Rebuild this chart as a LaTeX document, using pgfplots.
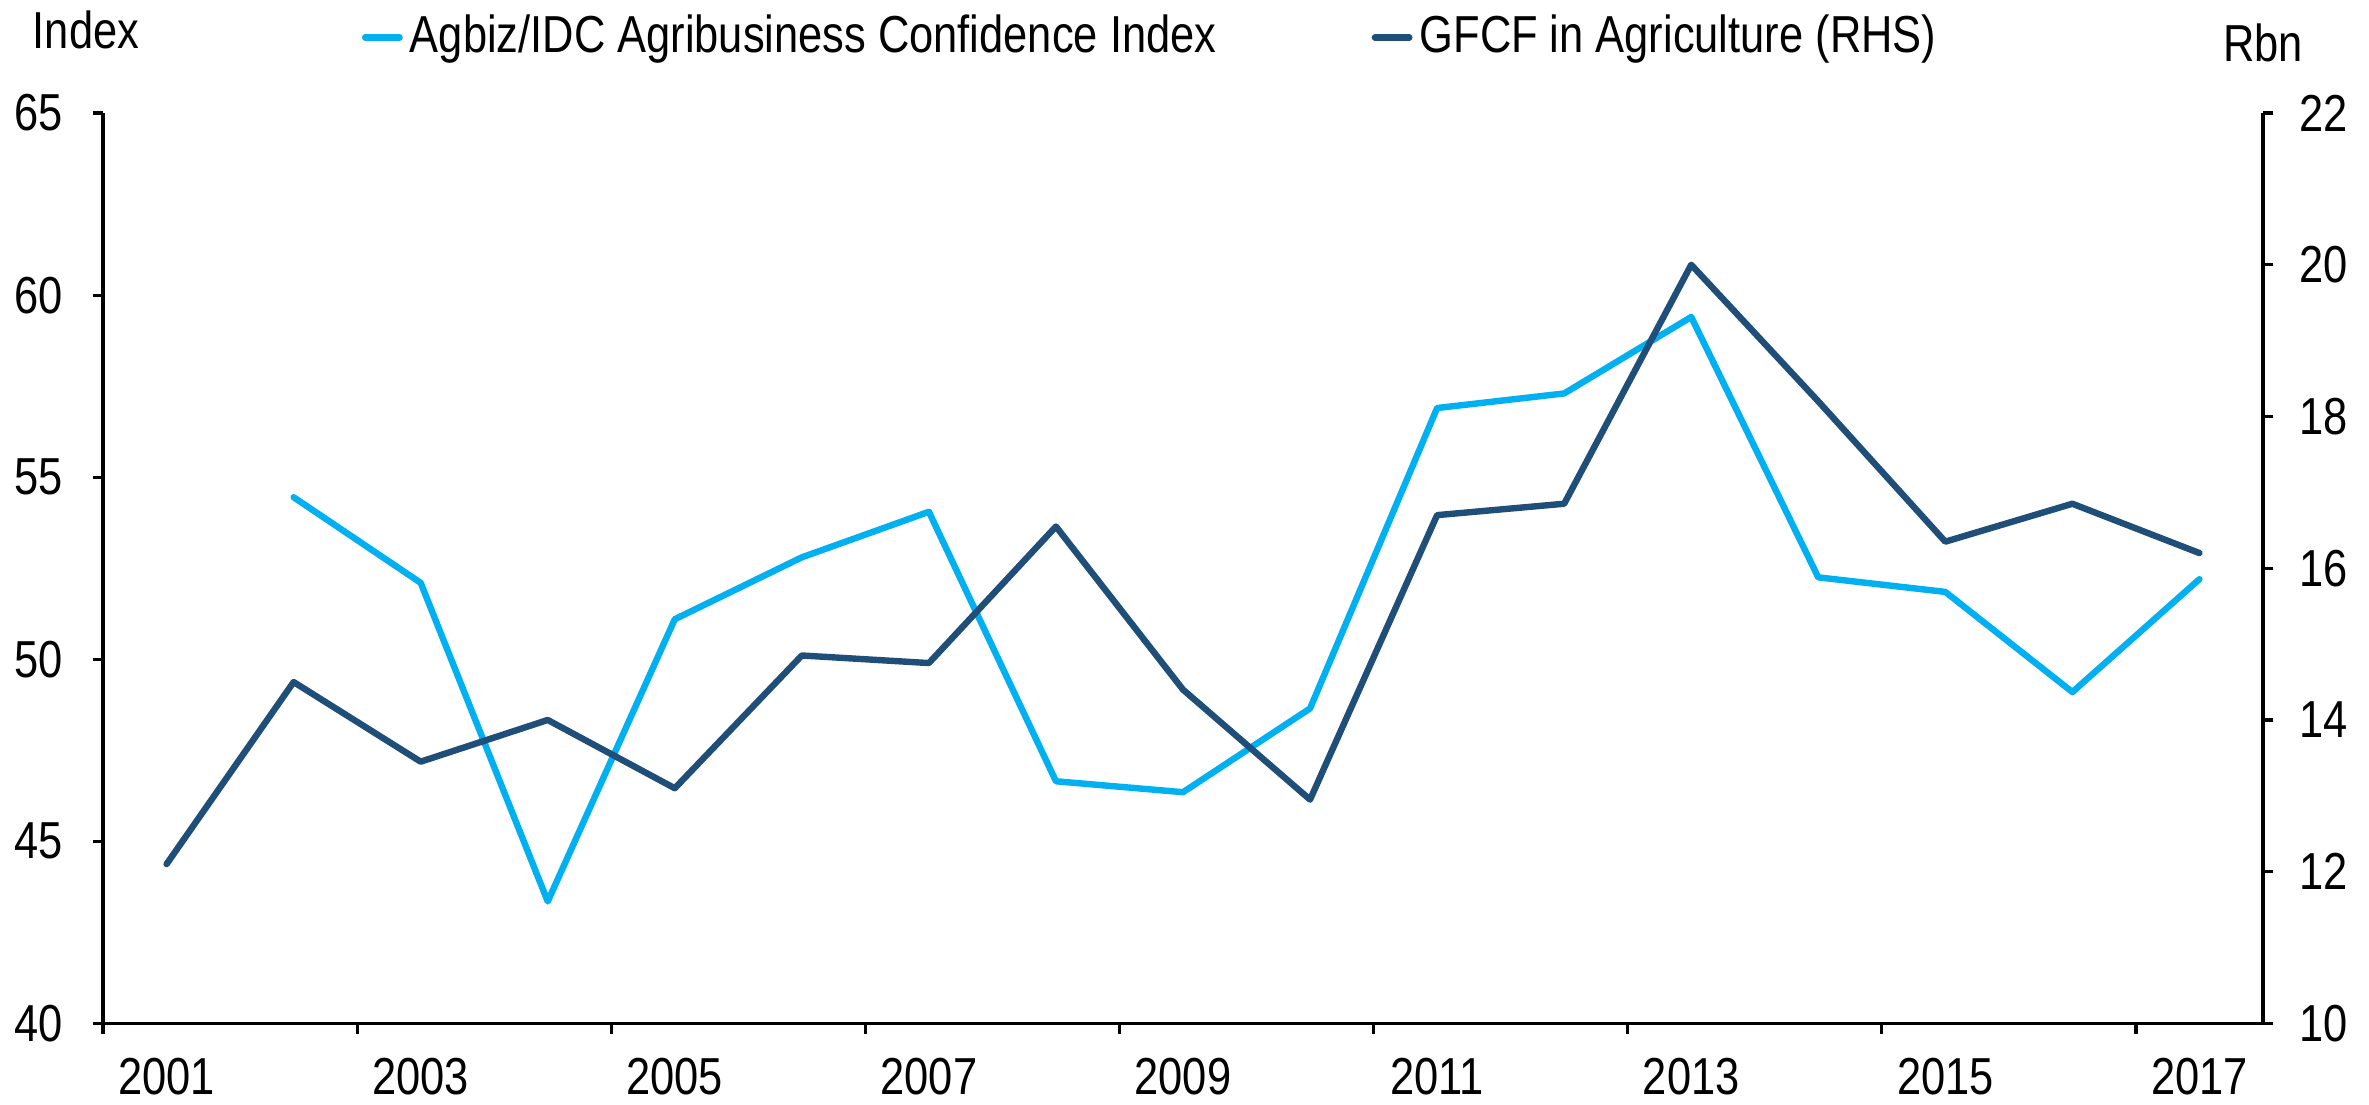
\documentclass[border=0pt]{standalone}
\usepackage{pgfplots}
\pgfplotsset{compat=1.18}
\usepackage{fontspec}
\setmainfont{Liberation Sans}[FakeStretch=0.835]
\definecolor{cLight}{HTML}{00B0F0}
\definecolor{cDark}{HTML}{1F4E79}
\begin{document}
\fontsize{13pt}{15pt}\selectfont
\begin{tikzpicture}
\useasboundingbox (0,0) rectangle (592pt,276pt);
\pgfplotsset{
  base/.style={
    at={(25.75pt,20.25pt)}, anchor=south west,
    scale only axis, width=539.75pt, height=227.5pt,
    xmin=-0.5, xmax=16.5,
    /pgf/number format/assume math mode=true,
    tick align=outside,
    major tick length=2.6pt, minor tick length=2.6pt,
    axis line style={line width=0.8pt},
    every tick/.style={line width=0.8pt, black},
    tick label style={font=\fontsize{13pt}{15pt}\selectfont},
    clip=false,
  }
}
\begin{axis}[base,
  axis x line*=bottom, axis y line*=left,
  ymin=40, ymax=65, ytick={40,45,50,55,60,65},
  xtick={0,2,4,6,8,10,12,14,16},
  xticklabels={2001,2003,2005,2007,2009,2011,2013,2015,2017},
  major x tick style={draw=none},
  minor xtick={-0.5,1.5,3.5,5.5,7.5,9.5,11.5,13.5,15.5},
  xticklabel style={yshift=-1.5pt},
  yticklabel style={xshift=-3pt},
]
\addplot[cLight, line width=1.6pt, line join=round, line cap=round] coordinates {
 (1,54.45) (2,52.1) (3,43.35) (4,51.1) (5,52.8) (6,54.05) (7,46.65) (8,46.35)
 (9,48.65) (10,56.9) (11,57.3) (12,59.4) (13,52.25) (14,51.85) (15,49.1) (16,52.2)
};
\end{axis}
\begin{axis}[base,
  axis x line=none, axis y line*=right,
  ymin=10, ymax=22, ytick={10,12,14,16,18,20,22},
  yticklabel style={xshift=2pt},
  legend columns=2,
  legend style={at={(0.1195,1.083)}, anchor=west, draw=none, fill=none,
    inner sep=0pt, font=\fontsize{13pt}{15pt}\selectfont,
    nodes={inner sep=1.8pt},
    /tikz/every even column/.append style={column sep=37pt}},
  legend image code/.code={\draw[#1, line cap=round] (0pt,0pt) -- (8.6pt,0pt);},
]
\addlegendimage{cLight, line width=1.6pt}
\addlegendentry{Agbiz/IDC Agribusiness Confidence Index}
\addplot[cDark, line width=1.6pt, line join=round, line cap=round] coordinates {
 (0,12.1) (1,14.5) (2,13.45) (3,14.0) (4,13.1) (5,14.85) (6,14.75) (7,16.55) (8,14.4)
 (9,12.95) (10,16.7) (11,16.85) (12,20.0) (13,18.2) (14,16.35) (15,16.85) (16,16.2)
};
\addlegendentry{GFCF in Agriculture (RHS)}
\end{axis}
\node at (21.5pt,268.4pt) {Index};
\node at (565.5pt,265.4pt) {Rbn};
\end{tikzpicture}
\end{document}
